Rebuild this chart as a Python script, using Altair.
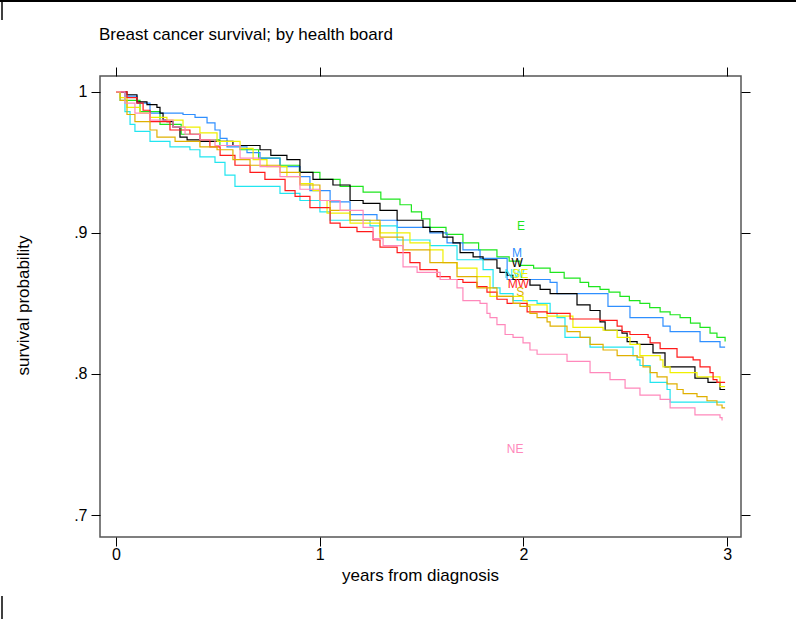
import altair as alt
import pandas as pd

boards = ["E", "M", "W", "NW", "SE", "MW", "S", "NE"]
board_colors = ["#1ee61e", "#2f8fff", "#000000", "#22e5f0", "#f0f000", "#ff1a1a", "#e0b000", "#ff88bb"]

# Kaplan-Meier step curves (time in years, survival probability)
e_t = [0, 0.044, 0.118, 0.216, 0.32, 0.412, 0.51, 0.609, 0.70, 0.805, 0.90, 1.001, 1.10, 1.213, 1.30,
       1.394, 1.45, 1.50, 1.541, 1.62, 1.703, 1.78, 1.870, 1.93, 1.983, 2.05, 2.131, 2.20, 2.278, 2.32,
       2.376, 2.42, 2.474, 2.52, 2.572, 2.62, 2.671, 2.72, 2.769, 2.82, 2.867, 2.916, 2.95, 2.99]
e_s = [1.0, 0.994, 0.986, 0.977, 0.970, 0.966, 0.962, 0.959, 0.953, 0.948, 0.943, 0.938, 0.933, 0.929, 0.924,
       0.920, 0.915, 0.910, 0.904, 0.899, 0.893, 0.888, 0.883, 0.880, 0.877, 0.875, 0.872, 0.868, 0.865, 0.862,
       0.860, 0.858, 0.855, 0.852, 0.850, 0.847, 0.844, 0.842, 0.840, 0.836, 0.833, 0.829, 0.826, 0.823]

m_t = [0, 0.044, 0.103, 0.167, 0.329, 0.388, 0.447, 0.486, 0.511, 0.545, 0.643, 0.707, 0.805, 0.903, 0.952,
       1.051, 1.149, 1.281, 1.380, 1.541, 1.625, 1.703, 1.787, 1.920, 2.131, 2.165, 2.415, 2.523, 2.685, 2.720,
       2.867, 2.965, 2.99]
m_s = [1.0, 0.997, 0.992, 0.985, 0.984, 0.982, 0.978, 0.973, 0.967, 0.961, 0.957, 0.953, 0.947, 0.940, 0.930,
       0.922, 0.913, 0.909, 0.904, 0.900, 0.893, 0.888, 0.882, 0.867, 0.865, 0.857, 0.848, 0.840, 0.834, 0.830,
       0.823, 0.819, 0.819]

w_t = [0, 0.054, 0.103, 0.152, 0.201, 0.216, 0.231, 0.250, 0.280, 0.314, 0.349, 0.412, 0.574, 0.707, 0.76,
       0.839, 0.903, 0.967, 1.065, 1.149, 1.213, 1.296, 1.380, 1.507, 1.541, 1.605, 1.654, 1.689, 1.753, 1.802,
       1.870, 1.885, 1.920, 1.949, 2.032, 2.082, 2.131, 2.263, 2.327, 2.376, 2.401, 2.484, 2.509, 2.558, 2.636,
       2.695, 2.842, 2.906, 2.965, 2.99]
w_s = [1.0, 0.998, 0.993, 0.991, 0.989, 0.985, 0.980, 0.979, 0.975, 0.968, 0.966, 0.965, 0.962, 0.959, 0.955,
       0.952, 0.943, 0.938, 0.934, 0.923, 0.921, 0.916, 0.909, 0.904, 0.901, 0.897, 0.893, 0.886, 0.883, 0.881,
       0.875, 0.872, 0.870, 0.867, 0.863, 0.860, 0.857, 0.849, 0.845, 0.837, 0.831, 0.829, 0.823, 0.821, 0.815,
       0.805, 0.797, 0.794, 0.789, 0.789]

nw_t = [0, 0.02, 0.044, 0.069, 0.093, 0.167, 0.265, 0.363, 0.412, 0.486, 0.535, 0.584, 0.805, 0.903, 1.001,
        1.051, 1.247, 1.380, 1.541, 1.674, 1.802, 1.851, 1.885, 1.949, 2.067, 2.131, 2.165, 2.204, 2.327, 2.538,
        2.558, 2.572, 2.622, 2.705, 2.720, 2.99]
nw_s = [1.0, 0.994, 0.986, 0.977, 0.972, 0.965, 0.961, 0.959, 0.954, 0.950, 0.941, 0.933, 0.928, 0.923, 0.915,
        0.909, 0.905, 0.895, 0.891, 0.881, 0.874, 0.861, 0.857, 0.852, 0.850, 0.843, 0.840, 0.826, 0.819, 0.813,
        0.810, 0.806, 0.794, 0.789, 0.780, 0.780]

se_t = [0, 0.02, 0.054, 0.118, 0.167, 0.250, 0.329, 0.412, 0.496, 0.609, 0.673, 0.741, 0.839, 0.903, 0.967,
        1.001, 1.036, 1.149, 1.296, 1.443, 1.541, 1.605, 1.674, 1.772, 1.836, 1.998, 2.018, 2.116, 2.243, 2.391,
        2.460, 2.523, 2.572, 2.671, 2.685, 2.720, 2.852, 2.965, 2.99]
se_s = [1.0, 0.996, 0.989, 0.985, 0.982, 0.980, 0.975, 0.971, 0.965, 0.960, 0.952, 0.947, 0.940, 0.935, 0.930,
        0.923, 0.914, 0.907, 0.900, 0.893, 0.888, 0.879, 0.875, 0.869, 0.855, 0.852, 0.849, 0.841, 0.833, 0.831,
        0.826, 0.821, 0.813, 0.810, 0.805, 0.801, 0.798, 0.791, 0.791]

mw_t = [0, 0.054, 0.103, 0.133, 0.167, 0.265, 0.363, 0.412, 0.461, 0.511, 0.584, 0.658, 0.731, 0.830, 0.879,
        0.952, 1.051, 1.100, 1.183, 1.262, 1.296, 1.380, 1.443, 1.492, 1.576, 1.640, 1.703, 1.772, 1.821, 1.870,
        1.920, 2.018, 2.116, 2.229, 2.376, 2.460, 2.484, 2.523, 2.612, 2.622, 2.671, 2.754, 2.833, 2.867, 2.916,
        2.931, 2.950, 2.99]
mw_s = [1.0, 0.996, 0.992, 0.987, 0.979, 0.973, 0.970, 0.966, 0.961, 0.955, 0.948, 0.943, 0.938, 0.930, 0.926,
        0.918, 0.907, 0.904, 0.901, 0.895, 0.890, 0.886, 0.879, 0.874, 0.869, 0.867, 0.865, 0.862, 0.858, 0.853,
        0.850, 0.844, 0.843, 0.839, 0.838, 0.834, 0.830, 0.828, 0.826, 0.822, 0.818, 0.812, 0.810, 0.805, 0.801,
        0.796, 0.794, 0.794]

s_t = [0, 0.02, 0.054, 0.093, 0.167, 0.201, 0.290, 0.412, 0.496, 0.574, 0.658, 0.805, 0.903, 1.001, 1.051,
       1.149, 1.296, 1.409, 1.541, 1.674, 1.772, 1.870, 1.949, 1.983, 2.032, 2.067, 2.116, 2.131, 2.214, 2.278,
       2.327, 2.391, 2.460, 2.558, 2.587, 2.622, 2.656, 2.705, 2.754, 2.784, 2.852, 2.901, 2.950, 2.975, 2.99]
s_s = [1.0, 0.994, 0.984, 0.979, 0.973, 0.968, 0.965, 0.961, 0.959, 0.952, 0.948, 0.943, 0.934, 0.923, 0.916,
       0.909, 0.897, 0.888, 0.879, 0.869, 0.861, 0.855, 0.850, 0.848, 0.843, 0.840, 0.837, 0.834, 0.830, 0.826,
       0.821, 0.817, 0.813, 0.812, 0.805, 0.801, 0.798, 0.793, 0.789, 0.786, 0.784, 0.781, 0.778, 0.776, 0.776]

ne_t = [0, 0.044, 0.093, 0.167, 0.280, 0.339, 0.412, 0.486, 0.609, 0.707, 0.805, 0.903, 1.001, 1.100, 1.213,
        1.262, 1.311, 1.409, 1.478, 1.591, 1.674, 1.703, 1.787, 1.821, 1.836, 1.870, 1.910, 1.949, 1.998, 2.032,
        2.067, 2.214, 2.327, 2.425, 2.499, 2.572, 2.671, 2.720, 2.842, 2.965, 2.975]
ne_s = [1.0, 0.992, 0.985, 0.980, 0.975, 0.970, 0.966, 0.962, 0.953, 0.947, 0.940, 0.931, 0.923, 0.916, 0.904,
        0.896, 0.891, 0.876, 0.872, 0.867, 0.861, 0.852, 0.850, 0.843, 0.840, 0.835, 0.828, 0.826, 0.822, 0.817,
        0.814, 0.809, 0.801, 0.796, 0.790, 0.785, 0.782, 0.776, 0.771, 0.769, 0.767]

# curve labels (placed near year 2)
label_board = ["E", "M", "W", "NW", "SE", "MW", "S", "NE"]
label_t = [1.988, 1.969, 1.969, 1.955, 1.985, 1.975, 1.985, 1.959]
label_s = [0.905, 0.886, 0.879, 0.871, 0.871, 0.864, 0.858, 0.747]

title_text = "Breast cancer survival; by health board"

series = [("E", e_t, e_s), ("M", m_t, m_s), ("W", w_t, w_s), ("NW", nw_t, nw_s),
          ("SE", se_t, se_s), ("MW", mw_t, mw_s), ("S", s_t, s_s), ("NE", ne_t, ne_s)]
rows = []
for b, ts, ss in series:
    for t, s in zip(ts, ss):
        rows.append({"board": b, "t": t, "s": s})
df = pd.DataFrame(rows)
lab_df = pd.DataFrame({"board": label_board, "lt": label_t, "ls": label_s})

FONT = "Liberation Sans"
xscale = alt.Scale(domain=[-0.0785, 3.068], nice=False, zero=False)
yscale = alt.Scale(domain=[0.6844, 1.0113], nice=False, zero=False)
cscale = alt.Scale(domain=boards, range=board_colors)

tick_kw = dict(tickColor="#000000", tickSize=9, tickWidth=1, domain=False, grid=False,
               labelFont=FONT, labelFontSize=16, labelColor="#000000")

lines = alt.Chart(df).mark_line(interpolate="step-after", strokeWidth=1.2).encode(
    x=alt.X("t:Q", scale=xscale,
            axis=alt.Axis(orient="bottom", values=[0, 1, 2, 3], format="d", labelPadding=0,
                          title="years from diagnosis", titleFont=FONT, titleFontSize=17,
                          titleFontWeight="normal", titleColor="#000000",
                          titleX=320, titleY=38, titleBaseline="middle", **tick_kw)),
    y=alt.Y("s:Q", scale=yscale,
            axis=alt.Axis(orient="left", values=[0.7, 0.8, 0.9, 1.0], labelPadding=4,
                          labelExpr="datum.value >= 0.99 ? '1' : replace(format(datum.value, '.1f'), '0.', '.')",
                          title="survival probability", titleFont=FONT, titleFontSize=17,
                          titleFontWeight="normal", titleColor="#000000",
                          titleX=-77, titleY=229, titleAngle=-90, titleBaseline="middle",
                          titleAlign="center", **tick_kw)),
    color=alt.Color("board:N", scale=cscale, legend=None),
)

labels = alt.Chart(lab_df).mark_text(font=FONT, fontSize=12, baseline="middle", align="center").encode(
    x=alt.X("lt:Q", scale=xscale,
            axis=alt.Axis(orient="top", values=[0, 1, 2, 3], labels=False, title="", **tick_kw)),
    y=alt.Y("ls:Q", scale=yscale,
            axis=alt.Axis(orient="right", values=[0.7, 0.8, 0.9, 1.0], labels=False, title="", **tick_kw)),
    text="board:N",
    color=alt.Color("board:N", scale=cscale, legend=None),
)

one = pd.DataFrame({"txt": [title_text]})
title_mark = alt.Chart(one).mark_text(font=FONT, fontSize=17, align="left", baseline="alphabetic",
                                      color="#000000").encode(
    x=alt.value(-1), y=alt.value(-36), text="txt:N")
top_line = alt.Chart(one).mark_rule(color="#000000", strokeWidth=2).encode(
    x=alt.value(-100), x2=alt.value(700), y=alt.value(-75))
left_top = alt.Chart(one).mark_rule(color="#000000", strokeWidth=1.5).encode(
    x=alt.value(-98), y=alt.value(-76), y2=alt.value(-56))
left_bottom = alt.Chart(one).mark_rule(color="#000000", strokeWidth=1.5).encode(
    x=alt.value(-98), y=alt.value(520), y2=alt.value(545))

chart = alt.layer(lines, labels, title_mark, top_line, left_top, left_bottom).resolve_axis(
    x="independent", y="independent"
).properties(
    width=641, height=461,
    padding={"left": 100, "top": 76, "right": 55, "bottom": 82},
    autosize="none",
).configure(background="#ffffff").configure_view(stroke="#555555", strokeWidth=1.5)

chart.save("out.html", embed_options={"renderer": "svg", "actions": False})
